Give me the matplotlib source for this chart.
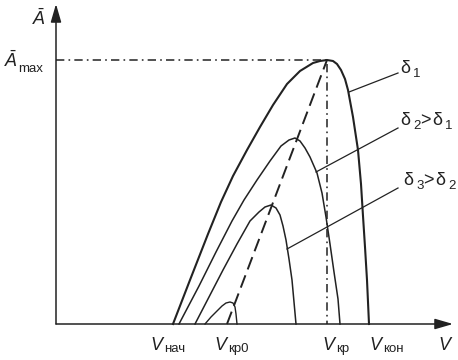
import matplotlib
matplotlib.use('Agg')
import matplotlib.pyplot as plt

plt.rcParams['font.family'] = ['Liberation Sans', 'DejaVu Sans']
plt.rcParams['mathtext.fontset'] = 'custom'
plt.rcParams['mathtext.rm'] = 'Liberation Sans'
plt.rcParams['mathtext.it'] = 'Liberation Sans:italic'
plt.rcParams['lines.scale_dashes'] = False

# curve delta1 (V, A)
v1 = [117, 134, 152, 165, 177, 191, 204, 217, 231, 244, 257, 264, 271,
      277, 281, 285, 289, 292, 297, 302, 305, 307, 309, 311, 313]
a1 = [0, 44, 90, 122, 148, 174, 197, 219, 240, 253, 261, 263, 264,
      263, 260, 254, 245, 234, 207, 174, 140, 108, 77, 44, 0]
# curve delta2 > delta1
v2 = [123, 143, 160, 176, 188, 201, 214, 225, 233, 239,
      244, 249, 254, 261, 266, 270, 274, 278, 282, 284]
a2 = [0, 38, 72, 103, 124, 144, 163, 178, 184, 186,
      183, 176, 167, 151, 131, 107, 80, 52, 25, 0]
# curve delta3 > delta2
v3 = [139, 153, 167, 181, 194, 203, 209, 215, 220, 224, 227, 230, 233, 236, 238, 240]
a3 = [0, 27, 54, 80, 103, 112, 117, 119, 116, 109, 98, 84, 65, 44, 22, 0]
# smallest curve
v4 = [149, 155, 161, 166, 170, 174, 177, 179, 180, 181]
a4 = [0, 7, 13, 18, 21, 22, 21, 17, 10, 0]

# line of maxima
v_peaks = [171, 271]
a_peaks = [0, 264]
v_kr = 271
a_max = 264

# labels under the V axis: (main, subscript, position)
v_labels = [('V', 'нач', 94), ('V', 'кр0', 158), ('V', 'кр', 266), ('V', 'кон', 313), ('V', '', 382)]

ink = '#222222'

fig = plt.figure(figsize=(4.58, 3.60), dpi=100)
ax = fig.add_axes([0, 0, 1, 1])
ax.set_xlim(-56, 402)
ax.set_ylim(-36, 324)
ax.axis('off')

# axes with arrows
arrow = dict(arrowstyle='-|>,head_length=1.1,head_width=0.32', color=ink, lw=1.1,
             mutation_scale=10, shrinkA=0, shrinkB=0)
ax.annotate('', xy=(0, 320), xytext=(0, 0), arrowprops=arrow)
ax.annotate('', xy=(397, 0), xytext=(0, 0), arrowprops=arrow)

# curves
ax.plot(v1, a1, color=ink, lw=1.5, solid_joinstyle='round')
ax.plot(v2, a2, color=ink, lw=1.1, solid_joinstyle='round')
ax.plot(v3, a3, color=ink, lw=1.1, solid_joinstyle='round')
ax.plot(v4, a4, color=ink, lw=1.0, solid_joinstyle='round')

# dashed line through the maxima
ax.plot(v_peaks, a_peaks, color=ink, lw=1.4, dashes=(9.5, 4.5))

# dash-dot guides to A_max and V_kr
ax.plot([0, v_kr, v_kr], [a_max, a_max, 0], color=ink, lw=1.1, dashes=(6, 3, 1.2, 3))

# leader lines
ax.plot([293, 342], [232, 251], color=ink, lw=0.9)
ax.plot([260, 342], [152, 196], color=ink, lw=0.9)
ax.plot([231, 342], [75, 136], color=ink, lw=0.9)

# delta labels
ax.text(344, 251, 'δ', fontsize=13, color=ink, va='baseline')
ax.text(357, 247, '1', fontsize=9.5, color=ink, va='baseline')
ax.text(344, 199, 'δ', fontsize=13, color=ink, va='baseline')
ax.text(357, 195, '2', fontsize=9.5, color=ink, va='baseline')
ax.text(364, 199, '>', fontsize=13, color=ink, va='baseline')
ax.text(376, 199, 'δ', fontsize=13, color=ink, va='baseline')
ax.text(389, 195, '1', fontsize=9.5, color=ink, va='baseline')
ax.text(347, 139, 'δ', fontsize=13, color=ink, va='baseline')
ax.text(360, 135, '3', fontsize=9.5, color=ink, va='baseline')
ax.text(367, 139, '>', fontsize=13, color=ink, va='baseline')
ax.text(379, 139, 'δ', fontsize=13, color=ink, va='baseline')
ax.text(392, 135, '2', fontsize=9.5, color=ink, va='baseline')

# A axis labels
ax.text(-24, 299, r'$\bar{A}$', fontsize=13, color=ink, va='baseline')
ax.text(-52, 257, r'$\bar{A}$', fontsize=13, color=ink, va='baseline')
ax.text(-38, 252, 'max', fontsize=9.5, color=ink, va='baseline')

# V axis labels
for main, sub, pos in v_labels:
    ax.text(pos, -26, main, fontsize=13, color=ink, style='italic', va='baseline')
    if sub:
        ax.text(pos + 14, -28, sub, fontsize=9.5, color=ink, va='baseline')

fig.savefig('out.png', dpi=100)
